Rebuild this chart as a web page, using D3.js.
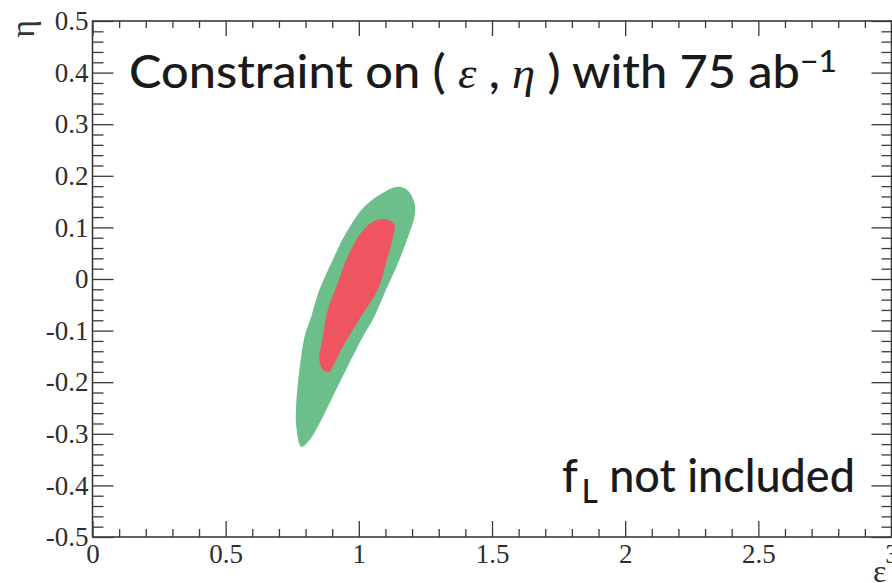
<!DOCTYPE html>
<html><head><meta charset="utf-8">
<script src="https://cdn.jsdelivr.net/npm/d3@7"></script>
<style>body{margin:0;background:#fff;} svg{display:block}</style>
</head><body>
<svg id="c" width="892" height="583"></svg>
<script>
// ---- data ----
const xTickValues = [0, 0.5, 1, 1.5, 2, 2.5, 3];
const xTickLabels = ["0", "0.5", "1", "1.5", "2", "2.5", "3"];
const yTickValues = [-0.5, -0.4, -0.3, -0.2, -0.1, 0, 0.1, 0.2, 0.3, 0.4, 0.5];
const yTickLabels = ["-0.5", "-0.4", "-0.3", "-0.2", "-0.1", "0", "0.1", "0.2", "0.3", "0.4", "0.5"];
const xMinorStep = 0.1;
const yMinorStep = 0.02;
// outer (green) allowed region, [epsilon, eta]
const outerRegion = [
  [1.146, 0.179], [1.183, 0.172], [1.209, 0.147], [1.209, 0.121], [1.190, 0.089],
  [1.152, 0.037], [1.102, -0.021], [1.058, -0.073], [1.015, -0.112], [0.952, -0.176],
  [0.902, -0.228], [0.852, -0.280], [0.815, -0.312], [0.784, -0.325], [0.765, -0.286],
  [0.765, -0.241], [0.777, -0.176], [0.796, -0.112], [0.821, -0.073], [0.852, -0.021],
  [0.902, 0.037], [0.952, 0.089], [1.015, 0.137], [1.077, 0.163]
];
// inner (red) allowed region, [epsilon, eta]
const innerRegion = [
  [1.102, 0.116], [1.134, 0.105], [1.127, 0.079], [1.102, 0.030], [1.071, -0.021],
  [1.017, -0.066], [0.977, -0.099], [0.927, -0.144], [0.902, -0.170], [0.890, -0.180],
  [0.865, -0.176], [0.852, -0.157], [0.865, -0.112], [0.883, -0.060], [0.921, -0.008],
  [0.958, 0.043], [1.008, 0.089], [1.052, 0.111]
];
const titleParts = [
  {t: "Constraint on ( ", kind: "main"},
  {t: "ε", kind: "greek"},
  {t: " , ", kind: "main"},
  {t: "η", kind: "greek"},
  {t: " ) with 75 ab", kind: "main"},
  {t: "−1", kind: "sup"}
];
const noteParts = [
  {t: "f", kind: "main"},
  {t: "L", kind: "sub"},
  {t: " not included", kind: "back"}
];
const xTitle = "ε";
const yTitle = "η";

// ---- drawing ----
const svg = d3.select("#c");
const x = d3.scaleLinear().domain([0, 3]).range([92.5, 891.5]);
const y = d3.scaleLinear().domain([-0.5, 0.5]).range([537, 21]);
const axisColor = "#3a3a3a";
const tickFont = "'Liberation Serif', 'Times New Roman', serif";

const line = d3.line().x(d => x(d[0])).y(d => y(d[1])).curve(d3.curveCatmullRomClosed.alpha(0.5));
svg.append("path").attr("d", line(outerRegion)).attr("fill", "#6cbf8a");
svg.append("path").attr("d", line(innerRegion)).attr("fill", "#ee5560");

const xMinor = d3.range(0, 3 / xMinorStep + 1).map(i => +(i * xMinorStep).toFixed(3)).filter(v => !xTickValues.includes(v));
const yMinor = d3.range(0, 1 / yMinorStep + 1).map(i => +(-0.5 + i * yMinorStep).toFixed(3)).filter(v => !yTickValues.some(t => Math.abs(t - v) < 1e-6));

function styleAxis(g) {
  g.select(".domain").remove();
  g.selectAll(".tick line").attr("stroke", axisColor).attr("stroke-width", 1.3);
  g.selectAll("text").attr("font-family", tickFont).attr("font-size", 27).attr("fill", "#2e2e2e");
}
// bottom
svg.append("g").attr("transform", `translate(0,${y(-0.5)})`)
  .call(d3.axisBottom(x).tickValues(xTickValues).tickSize(-16).tickPadding(7).tickFormat((d, i) => xTickLabels[i]))
  .call(styleAxis);
svg.append("g").attr("transform", `translate(0,${y(-0.5)})`)
  .call(d3.axisBottom(x).tickValues(xMinor).tickSize(-8).tickFormat(""))
  .call(styleAxis);
// top
svg.append("g").attr("transform", `translate(0,${y(0.5)})`)
  .call(d3.axisTop(x).tickValues(xTickValues).tickSize(-15).tickFormat(""))
  .call(styleAxis);
svg.append("g").attr("transform", `translate(0,${y(0.5)})`)
  .call(d3.axisTop(x).tickValues(xMinor).tickSize(-7).tickFormat(""))
  .call(styleAxis);
// left
svg.append("g").attr("transform", `translate(${x(0)},0)`)
  .call(d3.axisLeft(y).tickValues(yTickValues).tickSize(-21).tickPadding(4).tickFormat((d, i) => yTickLabels[i]))
  .call(styleAxis);
svg.append("g").attr("transform", `translate(${x(0)},0)`)
  .call(d3.axisLeft(y).tickValues(yMinor).tickSize(-11).tickFormat(""))
  .call(styleAxis);
// right
svg.append("g").attr("transform", `translate(${x(3)},0)`)
  .call(d3.axisRight(y).tickValues(yTickValues).tickSize(-20).tickFormat(""))
  .call(styleAxis);
svg.append("g").attr("transform", `translate(${x(3)},0)`)
  .call(d3.axisRight(y).tickValues(yMinor).tickSize(-10).tickFormat(""))
  .call(styleAxis);
// frame
svg.append("rect").attr("x", x(0)).attr("y", y(0.5)).attr("width", x(3) - x(0)).attr("height", y(-0.5) - y(0.5))
  .attr("fill", "none").attr("stroke", axisColor).attr("stroke-width", 1.6);

// axis titles
svg.append("text").attr("transform", `translate(34,${y(0.5) - 1}) rotate(-90)`)
  .attr("text-anchor", "end").attr("font-family", tickFont).attr("font-size", 34).attr("fill", "#333").text(yTitle);
svg.append("text").attr("x", 873).attr("y", 582)
  .attr("font-family", tickFont).attr("font-size", 32).attr("fill", "#333").text(xTitle);

// title & note
const sansFont = "Lato, 'Open Sans', 'DejaVu Sans', sans-serif";
function rich(parts, x0, y0, targetW) {
  const t = svg.append("text").attr("transform", `translate(${x0},${y0})`)
    .attr("font-family", sansFont).attr("font-size", 46).attr("font-weight", 500).attr("fill", "#1a1a1a")
    .style("white-space", "pre");
  parts.forEach(p => {
    const s = t.append("tspan").text(p.t);
    if (p.kind === "greek") s.attr("font-family", tickFont).attr("font-style", "italic").attr("font-weight", 400).attr("font-size", 44);
    if (p.kind === "sup") s.attr("font-size", 30).attr("dy", -16);
    if (p.kind === "sub") s.attr("font-size", 32).attr("dy", 11).attr("dx", 4);
    if (p.kind === "back") s.attr("dy", -11);
  });
  const w = t.node().getBBox().width;
  t.attr("transform", `translate(${x0},${y0}) scale(${targetW / w},1)`);
}
rich(titleParts, 129, 88, 708);
rich(noteParts, 562, 492, 293);
</script>
</body></html>
